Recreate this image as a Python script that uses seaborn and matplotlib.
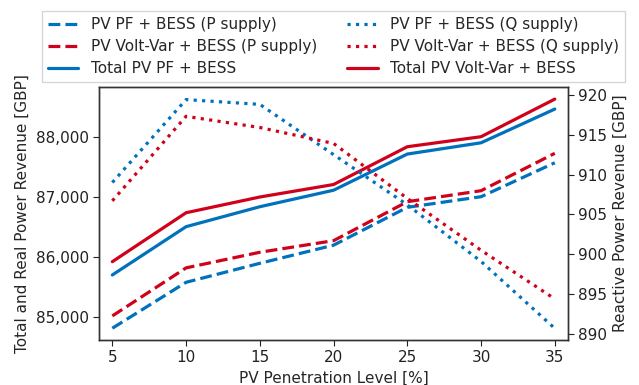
import matplotlib
matplotlib.use("Agg")
import matplotlib.pyplot as plt
import matplotlib.ticker as mticker
import seaborn as sns
import pandas as pd

# PV penetration levels [%]
penetration = [5, 10, 15, 20, 25, 30, 35]

# Real power (P) supply revenue [GBP]
pf_p_supply = [84817, 85582, 85898, 86200, 86830, 87007, 87572]
vv_p_supply = [85022, 85822, 86082, 86275, 86924, 87107, 87729]

# Total revenue [GBP]
pf_total = [85704, 86508, 86840, 87115, 87717, 87905, 88466]
vv_total = [85925, 86740, 87002, 87210, 87839, 88006, 88632]

# Reactive power (Q) supply revenue [GBP]
pf_q_supply = [909.0, 919.4, 918.8, 912.5, 906.2, 899.1, 890.7]
vv_q_supply = [906.7, 917.3, 915.9, 913.9, 907.0, 900.5, 894.4]

blue = "#0072BD"
red = "#D0021B"

sns.set_style("ticks")
plt.rcParams["font.family"] = ["DejaVu Sans"]
plt.rcParams["font.size"] = 11

fig = plt.figure(figsize=(6.39, 3.85), dpi=100)
ax = fig.add_axes([0.155, 0.117, 0.734, 0.656])
ax2 = ax.twinx()

df = pd.DataFrame({
    "x": penetration,
    "pf_p": pf_p_supply, "vv_p": vv_p_supply,
    "pf_t": pf_total, "vv_t": vv_total,
    "pf_q": pf_q_supply, "vv_q": vv_q_supply,
})

lw = 2.3
sns.lineplot(data=df, x="x", y="pf_p", ax=ax, color=blue, lw=lw,
             linestyle="--", label="PV PF + BESS (P supply)", legend=False)
sns.lineplot(data=df, x="x", y="vv_p", ax=ax, color=red, lw=lw,
             linestyle="--", label="PV Volt-Var + BESS (P supply)", legend=False)
sns.lineplot(data=df, x="x", y="pf_t", ax=ax, color=blue, lw=lw,
             label="Total PV PF + BESS", legend=False)
sns.lineplot(data=df, x="x", y="pf_q", ax=ax2, color=blue, lw=lw,
             linestyle=":", label="PV PF + BESS (Q supply)", legend=False)
sns.lineplot(data=df, x="x", y="vv_q", ax=ax2, color=red, lw=lw,
             linestyle=":", label="PV Volt-Var + BESS (Q supply)", legend=False)
sns.lineplot(data=df, x="x", y="vv_t", ax=ax, color=red, lw=lw,
             label="Total PV Volt-Var + BESS", legend=False)

ax.set_xlim(4.1, 35.9)
ax.set_ylim(84622, 88827)
ax2.set_ylim(889.25, 920.93)
ax.set_xticks(penetration)
ax.set_yticks([85000, 86000, 87000, 88000])
ax.yaxis.set_major_formatter(mticker.StrMethodFormatter("{x:,.0f}"))
ax2.set_yticks([890, 895, 900, 905, 910, 915, 920])

ax.set_xlabel("PV Penetration Level [%]")
ax.set_ylabel("Total and Real Power Revenue [GBP]")
ax2.set_ylabel("Reactive Power Revenue [GBP]")

for a in (ax, ax2):
    for s in a.spines.values():
        s.set_visible(True)
        s.set_color("#333333")
        s.set_linewidth(1.0)
    a.tick_params(colors="#222222", labelsize=11, length=4)

# legend ordering: column 1 = PF P, VV P, PF total; column 2 = PF Q, VV Q, VV total
h1, l1 = ax.get_legend_handles_labels()
h2, l2 = ax2.get_legend_handles_labels()
hmap = dict(zip(l1 + l2, h1 + h2))
order = ["PV PF + BESS (P supply)", "PV Volt-Var + BESS (P supply)", "Total PV PF + BESS",
         "PV PF + BESS (Q supply)", "PV Volt-Var + BESS (Q supply)", "Total PV Volt-Var + BESS"]
leg = fig.legend([hmap[k] for k in order], order, ncol=2, loc="upper center",
                 bbox_to_anchor=(0.522, 0.971), borderaxespad=0.0,
                 fontsize=11, frameon=True,
                 handlelength=2.0, handletextpad=0.8, columnspacing=2.0,
                 labelspacing=0.45, borderpad=0.4, fancybox=False,
                 edgecolor="#cccccc")

fig.savefig("out.png", dpi=100)
